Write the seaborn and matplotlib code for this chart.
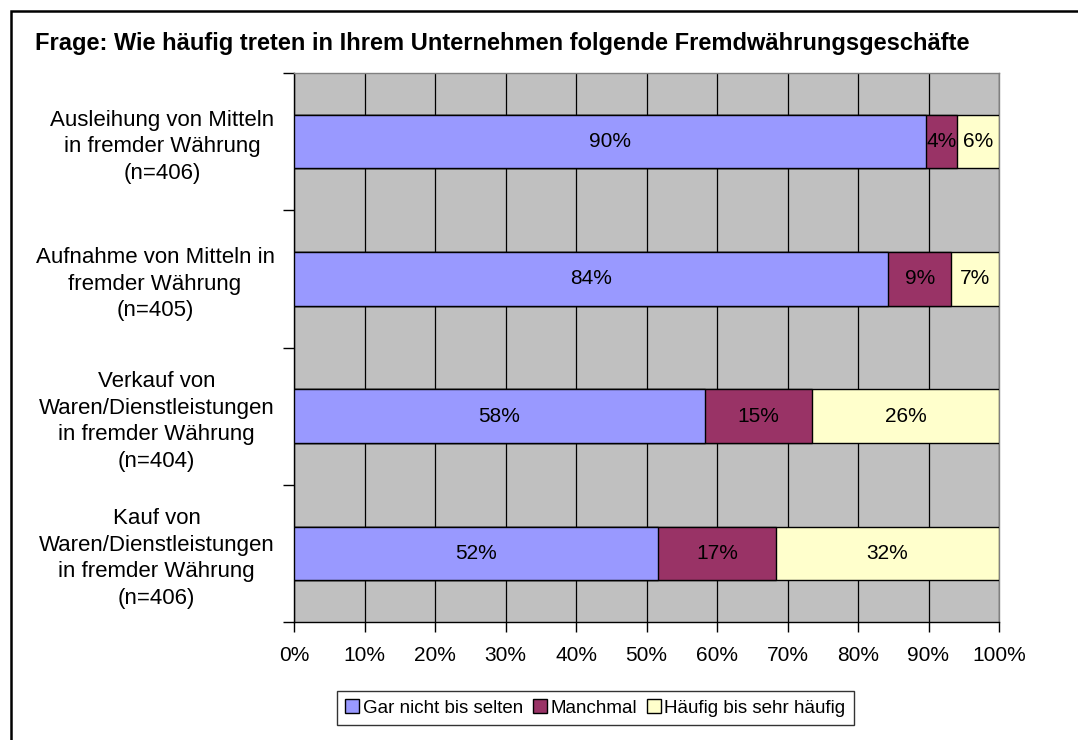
import matplotlib
matplotlib.use("Agg")
import matplotlib.pyplot as plt
import seaborn as sns
import numpy as np
from matplotlib.patches import Rectangle, Patch

# ---- data ----
categories = [
    "Ausleihung von Mitteln\nin fremder Währung\n(n=406)",
    "Aufnahme von Mitteln in\nfremder Währung\n(n=405)",
    "Verkauf von\nWaren/Dienstleistungen\nin fremder Währung\n(n=404)",
    "Kauf von\nWaren/Dienstleistungen\nin fremder Währung\n(n=406)",
]
series_names = ["Gar nicht bis selten", "Manchmal", "Häufig bis sehr häufig"]
gar_nicht = [89.6, 84.3, 58.3, 51.6]
manchmal = [4.4, 8.9, 15.2, 16.8]
haeufig = [6.0, 6.8, 26.5, 31.6]
gar_nicht_labels = [90, 84, 58, 52]
manchmal_labels = [4, 9, 15, 17]
haeufig_labels = [6, 7, 26, 32]
x_ticks = [0, 10, 20, 30, 40, 50, 60, 70, 80, 90, 100]
title = "Frage: Wie häufig treten in Ihrem Unternehmen folgende Fremdwährungsgeschäfte"

colors = ["#9999FF", "#993366", "#FFFFCC"]

sns.set_style("white")
plt.rcParams["font.family"] = ["Liberation Sans", "DejaVu Sans"]
plt.rcParams["text.color"] = "black"
plt.rcParams["xtick.color"] = "black"
plt.rcParams["ytick.color"] = "black"
plt.rcParams["axes.labelcolor"] = "black"

fig = plt.figure(figsize=(10.78, 7.40), dpi=100)
ax = fig.add_axes([294 / 1078, 1 - 622 / 740, (999 - 294) / 1078, (622 - 73) / 740])
ax.set_facecolor("#C0C0C0")

series = [gar_nicht, manchmal, haeufig]
labels = [gar_nicht_labels, manchmal_labels, haeufig_labels]
cums = np.cumsum(np.array(series), axis=0)

# draw cumulative bars from largest to smallest so that stacks appear
for i in reversed(range(len(series))):
    sns.barplot(x=list(cums[i]), y=categories, orient="h", color=colors[i],
                saturation=1, width=0.39, edgecolor="black", linewidth=1.0,
                ax=ax, zorder=3)

# value labels centered in each segment
for i in range(len(series)):
    for j in range(len(categories)):
        center = cums[i][j] - series[i][j] / 2
        ax.text(center, j, f"{labels[i][j]}%", ha="center", va="center",
                fontsize=15, color="black", zorder=5)

ax.set_xlim(0, 100)
ax.set_ylim(3.5, -0.5)
ax.set_xticks(x_ticks)
ax.set_xticklabels([f"{v}%" for v in x_ticks], fontsize=15)
ax.set_yticks(np.arange(-0.5, len(categories), 1))
ax.set_yticklabels([])
ax.set_yticks(range(len(categories)), minor=True)
ax.set_yticklabels(categories, minor=True, fontsize=16)
for t in ax.get_yticklabels(minor=True):
    t.set_multialignment("center")
    t.set_linespacing(1.35)
ax.tick_params(axis="y", which="minor", length=0, pad=14)
ax.tick_params(axis="y", which="major", length=8, width=1, direction="out", color="black", left=True)
ax.tick_params(axis="x", which="major", length=7, width=1, direction="out", color="black", pad=10, bottom=True)
ax.set_xlabel("")
ax.set_ylabel("")

ax.xaxis.grid(True, color="black", linewidth=0.9)
ax.yaxis.grid(False)
ax.set_axisbelow(True)

for s in ["left", "bottom"]:
    ax.spines[s].set_color("black")
    ax.spines[s].set_linewidth(1.0)
for s in ["top", "right"]:
    ax.spines[s].set_color("#808080")
    ax.spines[s].set_linewidth(1.0)

# legend
handles = [Patch(facecolor=c, edgecolor="black", linewidth=1.0) for c in colors]
leg = fig.legend(handles, series_names, loc="center", bbox_to_anchor=(595.5 / 1078, 1 - 708 / 740),
                 ncol=3, fontsize=13.5, frameon=True, fancybox=False, handlelength=0.75,
                 handleheight=0.75, handletextpad=0.2, columnspacing=0.5, borderpad=0.45,
                 borderaxespad=0)
leg.get_frame().set_edgecolor("black")
leg.get_frame().set_linewidth(1.0)

# title
fig.text(35 / 1078, 1 - 50 / 740, title, fontsize=17, fontweight="bold", ha="left", va="baseline")

# outer frame (extends past right and bottom edges)
fig.patches.append(Rectangle((11 / 1078, -0.2), 1.2, 1 - 11 / 740 + 0.2, transform=fig.transFigure,
                             fill=False, edgecolor="black", linewidth=1.8, clip_on=False))

fig.savefig("out.png", dpi=100)
